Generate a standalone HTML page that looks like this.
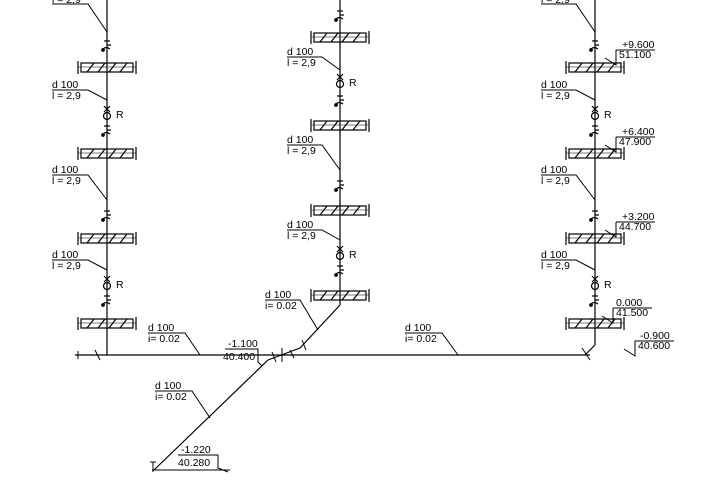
<!DOCTYPE html>
<html><head><meta charset="utf-8"><style>
body{margin:0;background:#fff}
svg{display:block}
text{font-family:"Liberation Sans",sans-serif;font-size:10.5px;fill:#000}
</style></head><body>
<svg width="720" height="480" viewBox="0 0 720 480" stroke="#000" fill="none" stroke-width="1.2">
<defs>
<g id="slab">
<rect x="-26" y="-4" width="52" height="9"/>
<line x1="-29" y1="-6" x2="-29" y2="7"/><line x1="29" y1="-6" x2="29" y2="7"/>
<line x1="-29" y1="0" x2="29" y2="0" stroke-width="0.6"/>
<path d="M-20 5 L-13 -4 M-9 5 L-2 -4 M2 5 L9 -4 M13 5 L20 -4"/>
</g>
<g id="cln">
<line x1="-3" y1="-14" x2="3" y2="-14"/>
<path d="M0 -10 L4 -10 M-4 -6 Q-1 -9 3 -6"/>
<circle cx="-4" cy="-5" r="1.3" fill="#000"/>
</g>
<g id="rev">
<path d="M-3 -6 L3 0 M3 -6 L-3 0"/>
<circle cx="0" cy="4" r="3.5"/>
</g>
</defs>
<line x1="107" y1="0" x2="107" y2="355"/>
<line x1="340" y1="0" x2="340" y2="305"/>
<line x1="595" y1="0" x2="595" y2="345"/>
<path d="M340 305 L300 348 L268 360"/>
<path d="M595 345 L585 355"/>
<line x1="75" y1="355" x2="590" y2="355"/>
<line x1="268" y1="360" x2="154" y2="470"/>
<use href="#slab" x="107" y="67"/><use href="#slab" x="107" y="153"/><use href="#slab" x="107" y="238"/><use href="#slab" x="107" y="323"/>
<use href="#slab" x="340" y="37"/><use href="#slab" x="340" y="125"/><use href="#slab" x="340" y="210"/><use href="#slab" x="340" y="295"/>
<use href="#slab" x="595" y="67"/><use href="#slab" x="595" y="153"/><use href="#slab" x="595" y="238"/><use href="#slab" x="595" y="323"/>
<use href="#cln" x="107" y="55"/><use href="#cln" x="107" y="140"/><use href="#cln" x="107" y="225"/><use href="#cln" x="107" y="310"/>
<use href="#cln" x="340" y="25"/><use href="#cln" x="340" y="110"/><use href="#cln" x="340" y="195"/><use href="#cln" x="340" y="280"/>
<use href="#cln" x="595" y="55"/><use href="#cln" x="595" y="140"/><use href="#cln" x="595" y="225"/><use href="#cln" x="595" y="310"/>
<use href="#rev" x="107" y="112"/><use href="#rev" x="107" y="282"/>
<use href="#rev" x="340" y="80"/><use href="#rev" x="340" y="252"/>
<use href="#rev" x="595" y="112"/><use href="#rev" x="595" y="282"/>
<g stroke-width="1">
<path d="M52 4 L88 4 L107 32"/><path d="M52 90 L88 90 L107 100"/><path d="M52 175 L88 175 L107 200"/><path d="M52 260 L88 260 L107 270"/>
<path d="M287 57 L322 57 L340 70"/><path d="M287 145 L322 145 L340 170"/><path d="M287 230 L322 230 L340 240"/>
<path d="M541 4 L576 4 L595 32"/><path d="M541 90 L576 90 L595 100"/><path d="M541 175 L576 175 L595 200"/><path d="M541 260 L576 260 L595 270"/>
<path d="M148 333 L185 333 L200 355"/><path d="M405 333 L442 333 L458 355"/>
<path d="M265 300 L300 300 L318 330"/><path d="M155 391 L192 391 L210 418"/>
<path d="M225 349 L258 349 L258 362 L262 366"/>
<path d="M178 455 L218 455 L218 468 L228 472 M152 470 L230 470"/>
<path d="M616 50 L655 50 M616 50 L616 65 L605 58"/>
<path d="M616 137 L655 137 M616 137 L616 152 L605 145"/>
<path d="M616 222 L655 222 M616 222 L616 237 L605 230"/>
<path d="M613 308 L652 308 M613 308 L613 323 L602 316"/>
<path d="M635 341 L674 341 M635 341 L635 356 L624 349"/>
</g>
<path d="M78 351 L78 359 M95 350 L100 360 M272 352 L276 362 M282 348 L282 362 M290 350 L294 358 M302 340 L306 350 M582 348 L590 360" stroke-width="1"/>
<path d="M150 462 L156 462 M153 462 L153 472" stroke-width="1"/>
<g stroke="none">
<text x="52" y="3">l = 2,9</text>
<text x="52" y="88">d 100</text><text x="52" y="99">l = 2,9</text>
<text x="52" y="173">d 100</text><text x="52" y="184">l = 2,9</text>
<text x="52" y="258">d 100</text><text x="52" y="269">l = 2,9</text>
<text x="116" y="118">R</text><text x="116" y="288">R</text>
<text x="287" y="55">d 100</text><text x="287" y="66">l = 2,9</text>
<text x="287" y="143">d 100</text><text x="287" y="154">l = 2,9</text>
<text x="287" y="228">d 100</text><text x="287" y="239">l = 2,9</text>
<text x="349" y="86">R</text><text x="349" y="258">R</text>
<text x="541" y="3">l = 2,9</text>
<text x="541" y="88">d 100</text><text x="541" y="99">l = 2,9</text>
<text x="541" y="173">d 100</text><text x="541" y="184">l = 2,9</text>
<text x="541" y="258">d 100</text><text x="541" y="269">l = 2,9</text>
<text x="604" y="118">R</text><text x="604" y="288">R</text>
<text x="148" y="331">d 100</text><text x="148" y="342">i= 0.02</text>
<text x="405" y="331">d 100</text><text x="405" y="342">i= 0.02</text>
<text x="265" y="298">d 100</text><text x="265" y="309">i= 0.02</text>
<text x="155" y="389">d 100</text><text x="155" y="400">i= 0.02</text>
<text x="228" y="347">-1.100</text><text x="223" y="360">40.400</text>
<text x="181" y="453">-1.220</text><text x="178" y="466">40.280</text>
<text x="622" y="48">+9.600</text><text x="619" y="58">51.100</text>
<text x="622" y="135">+6.400</text><text x="619" y="145">47.900</text>
<text x="622" y="220">+3.200</text><text x="619" y="230">44.700</text>
<text x="616" y="306">0.000</text><text x="616" y="316">41.500</text>
<text x="640" y="339">-0.900</text><text x="638" y="349">40.600</text>
</g>
</svg>
</body></html>
